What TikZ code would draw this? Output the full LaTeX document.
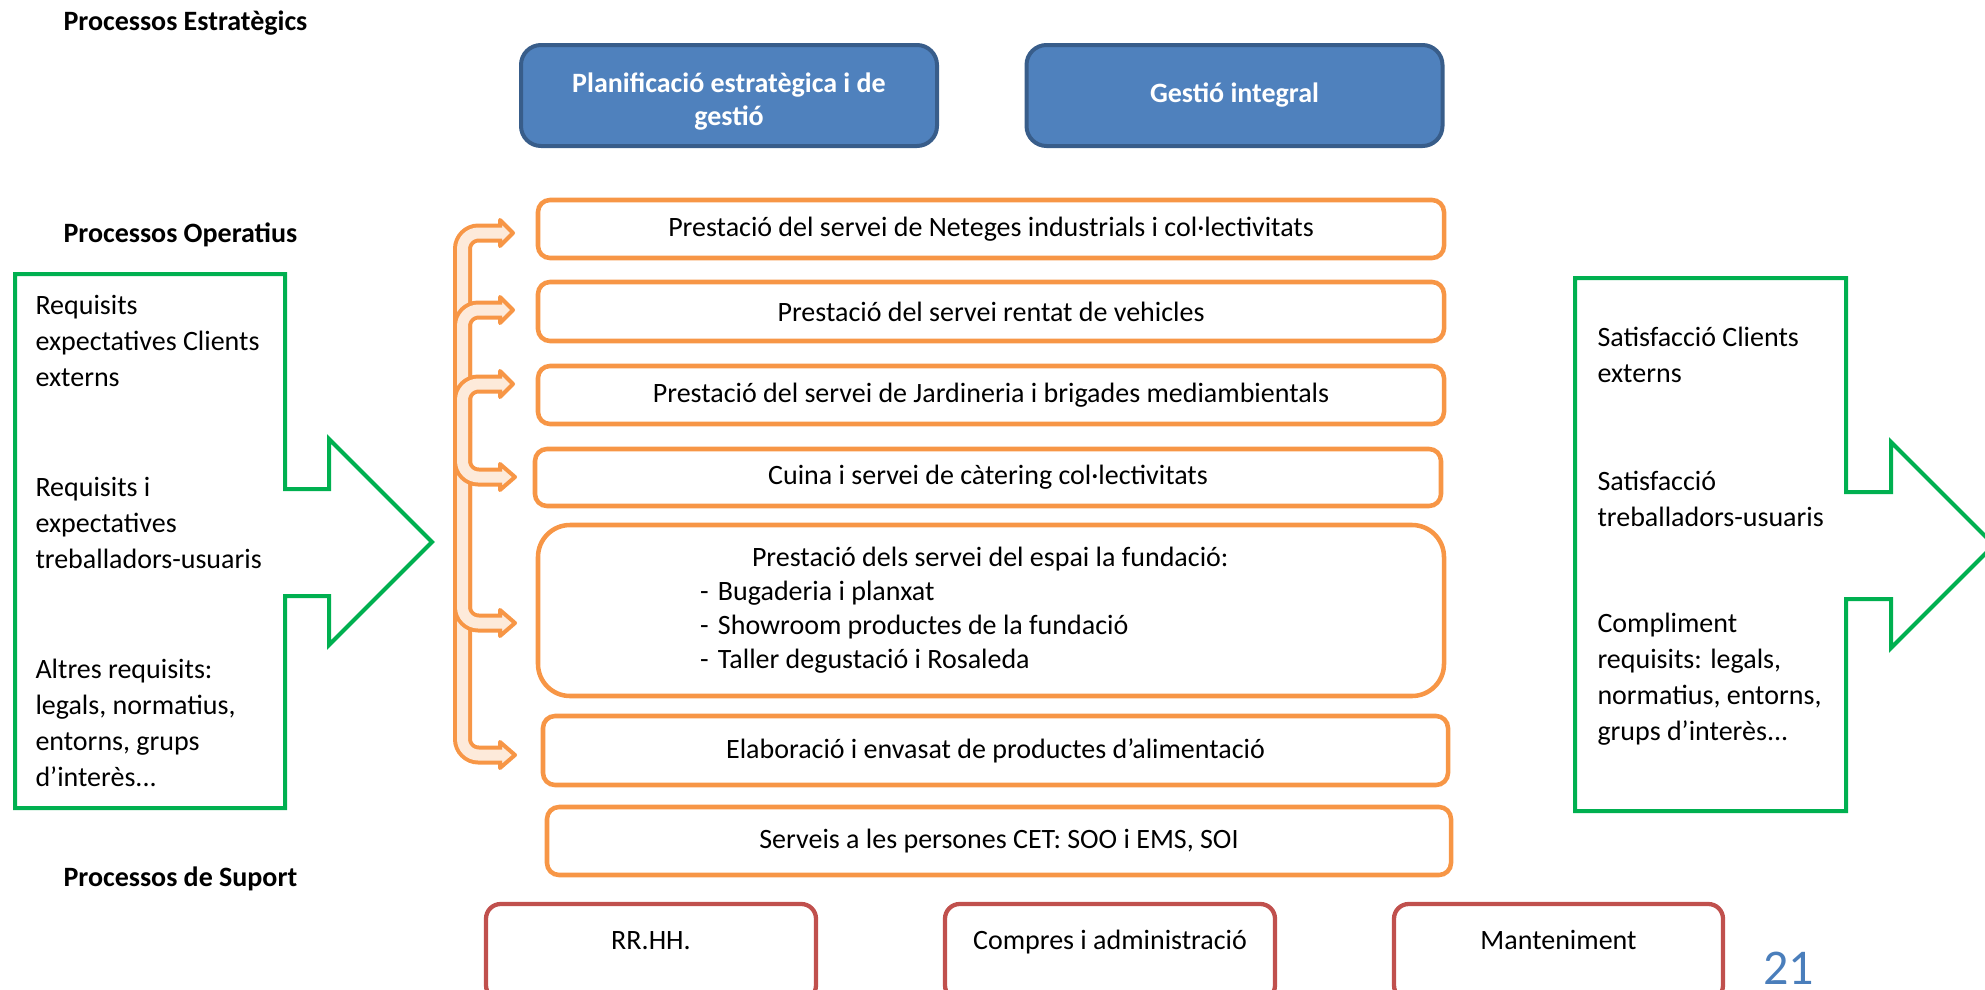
\documentclass[tikz,border=0pt]{standalone}
\usepackage{fontspec}
\setmainfont{Carlito}
\usetikzlibrary{positioning}

\definecolor{blueFill}{RGB}{79,129,189}
\definecolor{blueLine}{RGB}{56,93,138}
\definecolor{orangeLine}{RGB}{247,150,70}
\definecolor{orangeFill}{RGB}{253,234,218}
\definecolor{greenLine}{RGB}{0,176,80}
\definecolor{redLine}{RGB}{192,80,77}
\definecolor{pageBlue}{RGB}{74,126,187}

\newcommand{\pxu}{0.75pt}

\tikzset{every picture/.style={line width=0.75pt},
  heading/.style={anchor=west, inner sep=0pt, font=\bfseries\fontsize{21}{25}\selectfont},
  stratbox/.style={rectangle, rounded corners=15pt, draw=blueLine, fill=blueFill, line width=3pt,
    text=white, align=center, font=\bfseries\fontsize{21}{24.75}\selectfont,
    minimum width=416*\pxu, minimum height=101*\pxu},
  procbox/.style={rectangle, rounded corners=9pt, draw=orangeLine, line width=3.4pt,
    font=\fontsize{21}{25}\selectfont, minimum width=906*\pxu, minimum height=58*\pxu},
  suppbox/.style={rectangle, rounded corners=11pt, draw=redLine, line width=3.2pt,
    font=\fontsize{21}{25}\selectfont, minimum width=330*\pxu, minimum height=96*\pxu,
    text height=13.5pt, text depth=18pt},
  greenarrow/.style={draw=greenLine, line width=3pt, line join=miter},
  gtext/.style={anchor=west, align=left, inner sep=0pt, font=\fontsize{21}{27}\selectfont},
  shaftout/.style={draw=orangeLine, line width=14.25pt, rounded corners=12pt},
  shaftin/.style={draw=orangeFill, line width=8.25pt, rounded corners=12pt},
  bracehead/.style={draw=orangeLine, fill=orangeFill, line width=3pt, line join=round}
}

\begin{document}
\begin{tikzpicture}[x=0.75pt,y=0.75pt,yscale=-1,xscale=1]
\useasboundingbox (0,0) rectangle (1985,989);
\clip (0,0) rectangle (1985,989);

% Text Node
\node[heading] (hstrat) at (63,23) {Processos Estratègics};
% Text Node
\node[heading] (hoper) at (63,235) {Processos Operatius};
% Text Node
\node[heading] (hsupp) at (63,879) {Processos de Suport};

%Shape: Rounded Rectangle [strategic]
\node[stratbox] (plan) at (729,95.5)
  {\raisebox{-5pt}[\height][\depth]{\begin{tabular}{@{}c@{}}Planificació estratègica i de\\gestió\end{tabular}}};
\node[stratbox] (gest) at (1234.5,95.5) {Gestió integral};

%Shape: Rounded Rectangle [operative]
\node[procbox] (ob1) at (991,229) {Prestació del servei de Neteges industrials i col·lectivitats};
\node[procbox, minimum height=59*\pxu] (ob2) at (991,311.5) {Prestació del servei rentat de vehicles};
\node[procbox] (ob3) at (991,395) {Prestació del servei de Jardineria i brigades mediambientals};
\node[procbox, minimum height=57*\pxu] (ob4) at (988,477.5) {Cuina i servei de càtering col·lectivitats};
\node[procbox, rounded corners=24pt, minimum height=171*\pxu, align=flush left, text width=679.5pt,
  inner xsep=0pt, font=\fontsize{21}{25.5}\selectfont] (ob5) at (991,610.5)
  {\hspace*{160.5pt}Prestació dels servei del espai la fundació:\\
   \hspace*{121.5pt}\makebox[13.5pt][l]{-}Bugaderia i planxat\\
   \hspace*{121.5pt}\makebox[13.5pt][l]{-}Showroom productes de la fundació\\
   \hspace*{121.5pt}\makebox[13.5pt][l]{-}Taller degustació i Rosaleda};
\node[procbox, minimum width=905*\pxu, minimum height=69*\pxu] (ob6) at (995.5,750.5) {Elaboració i envasat de productes d’alimentació};
\node[procbox, minimum width=904*\pxu, minimum height=68*\pxu] (ob7) at (999,841) {Serveis a les persones CET: SOO i EMS, SOI};

%Shape: Rounded Rectangle [support]
\node[suppbox] (rrhh) at (651,952) {RR.HH.};
\node[suppbox] (compres) at (1110,952) {Compres i administració};
\node[suppbox, minimum width=329*\pxu] (mant) at (1558.5,952) {Manteniment};

%Shape: Bent Arrows [bracket]
\foreach \ty in {233,310,384}{
  \draw[shaftout] (462.5,432) |- (500,\ty);
  \draw[bracehead] (500,\ty-13) -- (513,\ty) -- (500,\ty+13) -- cycle;
  \draw[shaftin] (462.5,432) |- (504,\ty);
}
\foreach \ty in {755,623,477}{
  \draw[shaftout] (462.5,432) |- (500,\ty);
  \draw[bracehead] (500,\ty-13) -- (515,\ty) -- (500,\ty+13) -- cycle;
  \draw[shaftin] (462.5,432) |- (504,\ty);
}

%Shape: Right Arrow Callout [inputs]
\draw[greenarrow] (15,274) -- (285,274) -- (285,489) -- (329,489) -- (329,439) -- (432,542)
  -- (329,645) -- (329,596) -- (285,596) -- (285,808) -- (15,808) -- cycle;
% Text Node
\node[gtext] (lreq1) at (35,340.5) {Requisits\\expectatives Clients\\externs};
\node[gtext] (lreq2) at (35,522.5) {Requisits i\\expectatives\\treballadors-usuaris};
\node[gtext] (lreq3) at (35,722.5) {Altres requisits:\\legals, normatius,\\entorns, grups\\d’interès.{}.{}.};

%Shape: Right Arrow Callout [outputs]
\draw[greenarrow] (1575,278) -- (1846,278) -- (1846,492) -- (1891,492) -- (1891,442) -- (1994,545)
  -- (1891,648) -- (1891,599) -- (1846,599) -- (1846,811) -- (1575,811) -- cycle;
% Text Node
\node[gtext] (rsat1) at (1597,354.5) {Satisfacció Clients\\externs};
\node[gtext] (rsat2) at (1597,498.5) {Satisfacció\\treballadors-usuaris};
\node[gtext] (rsat3) at (1597,679.5) {Compliment\\requisits: legals,\\normatius, entorns,\\grups d’interès.{}.{}.};

% Text Node
\node[anchor=base west, inner sep=0pt, text=pageBlue, font=\fontsize{37.5}{40}\selectfont] (pagenum) at (1763,984) {21};

\end{tikzpicture}
\end{document}
